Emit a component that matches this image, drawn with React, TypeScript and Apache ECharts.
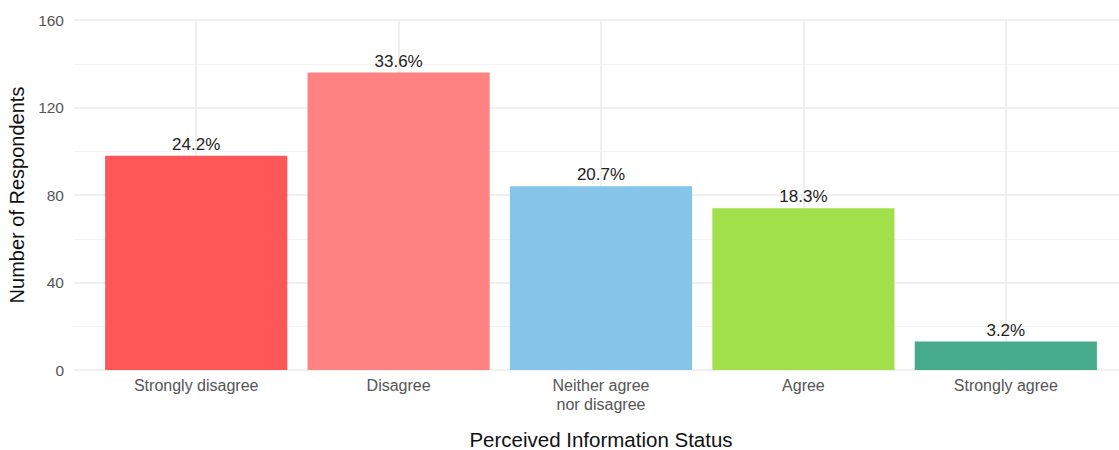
import React, { useEffect, useRef } from "react";
import * as echarts from "echarts";

const categories = ["Strongly disagree", "Disagree", "Neither agree\nnor disagree", "Agree", "Strongly agree"];
const counts = [98, 136, 84, 74, 13];
const colors = ["#FF5757", "#FF8282", "#85C5EA", "#A1E04B", "#45AB8B"];
const yTicks = [0, 40, 80, 120, 160];

export default function App() {
  const ref = useRef<HTMLDivElement>(null);
  useEffect(() => {
    if (!ref.current) return;
    const chart = echarts.init(ref.current, null, { renderer: "svg" });
    const total = counts.reduce((a, b) => a + b, 0);
    const font = "'Liberation Sans', Arial, Helvetica, sans-serif";
    const yMin = yTicks[0];
    const yMax = yTicks[yTicks.length - 1];
    const yInterval = yTicks[1] - yTicks[0];
    chart.setOption({
      animation: false,
      textStyle: { fontFamily: font },
      grid: [
        { left: 95, right: 12, top: 20, bottom: 80, containLabel: false, outerBoundsMode: "none" },
        { left: 74, right: 0, top: 20, bottom: 80, containLabel: false, outerBoundsMode: "none" },
      ],
      xAxis: [
        {
          type: "category",
          gridIndex: 0,
          data: categories,
          axisLine: { show: false },
          axisTick: { show: false },
          splitLine: { show: false },
          axisLabel: { color: "#555555", fontSize: 16, margin: 6, lineHeight: 19, fontFamily: font },
          name: "Perceived Information Status",
          nameLocation: "middle",
          nameGap: 59,
          nameTextStyle: { color: "#111111", fontSize: 20.5, fontFamily: font },
        },
        { type: "value", gridIndex: 1, show: false, min: 0, max: 1 },
      ],
      yAxis: [
        { type: "value", gridIndex: 0, min: yMin, max: yMax, interval: yInterval, show: false },
        {
          type: "value",
          gridIndex: 1,
          min: yMin,
          max: yMax,
          interval: yInterval,
          axisLine: { show: false },
          axisTick: { show: false },
          axisLabel: { color: "#555555", fontSize: 15.5, margin: 10, fontFamily: font },
          splitLine: { show: true, lineStyle: { color: "#EBEBEB", width: 1.6 } },
          minorTick: { show: false, splitNumber: 2 },
          minorSplitLine: { show: true, lineStyle: { color: "#F2F2F2", width: 0.9 } },
          name: "Number of Respondents",
          nameLocation: "middle",
          nameGap: 36,
          nameTextStyle: { color: "#111111", fontSize: 20, fontFamily: font },
        },
      ],
      series: [
        {
          type: "line",
          xAxisIndex: 0,
          yAxisIndex: 0,
          data: [],
          z: 1,
          silent: true,
          markLine: {
            silent: true,
            z: 0,
            symbol: "none",
            label: { show: false },
            lineStyle: { color: "#EBEBEB", width: 1.6, type: "solid" },
            data: categories.map((c) => ({ xAxis: c })),
          },
        },
        {
          type: "bar",
          xAxisIndex: 0,
          yAxisIndex: 0,
          barWidth: "90%",
          z: 3,
          data: counts.map((v, i) => ({ value: v, itemStyle: { color: colors[i] } })),
          label: {
            show: true,
            position: "top",
            distance: 3,
            color: "#222222",
            fontSize: 17,
            fontFamily: font,
            formatter: (p: any) => ((p.value / total) * 100).toFixed(1) + "%",
          },
        },
      ],
    });
    return () => chart.dispose();
  }, []);
  return <div ref={ref} style={{ width: 1119, height: 450, position: "absolute", left: 0, top: 0 }} />;
}
